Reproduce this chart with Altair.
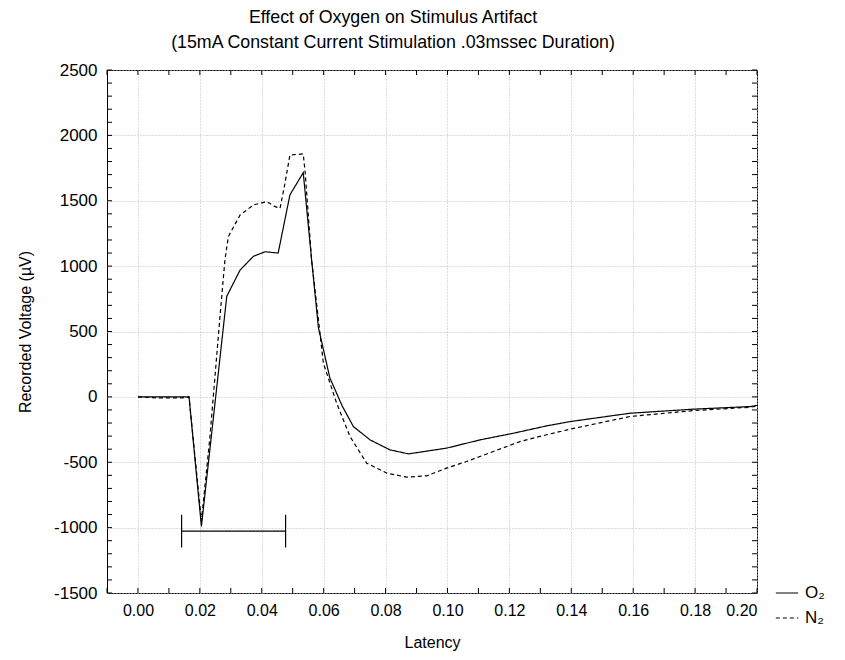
import altair as alt
import pandas as pd

title_lines = ["Effect of Oxygen on Stimulus Artifact",
               "(15mA Constant Current Stimulation .03mssec Duration)"]
series_names = ["O₂", "N₂"]

o2_x = [0.000, 0.0165, 0.0205, 0.0287, 0.0330, 0.0373, 0.0411, 0.0453, 0.0491,
        0.0534, 0.0561, 0.0583, 0.0620, 0.0660, 0.0696, 0.0750, 0.0814, 0.0874, 0.0997,
        0.1105, 0.1213, 0.1320, 0.1396, 0.1590, 0.1794, 0.1978, 0.2000]
o2_y = [0, 0, -990, 770, 970, 1075, 1110, 1100, 1545,
        1715, 1050, 530, 145, -70, -227, -329, -405, -436, -392,
        -329, -278, -222, -189, -125, -94, -74, -65]

n2_x = [0.000, 0.0060, 0.0140, 0.0165, 0.0205, 0.0232, 0.0248, 0.0265, 0.0281,
        0.0292, 0.0330, 0.0373, 0.0416, 0.0443, 0.0459, 0.0475, 0.0491, 0.0534,
        0.0540, 0.0561, 0.0588, 0.0599, 0.0642, 0.0685, 0.0739, 0.0804, 0.0868,
        0.0933, 0.0997, 0.1062, 0.1148, 0.1234, 0.1320, 0.1396, 0.1500, 0.1590,
        0.1794, 0.1978, 0.2000]
n2_y = [0, -8, -8, 0, -950, -320, 130, 614, 1047,
        1226, 1391, 1468, 1493, 1455, 1442, 1634, 1850, 1858,
        1722, 1047, 487, 258, -48, -303, -507, -583, -614,
        -604, -545, -494, -418, -342, -290, -247, -195, -150,
        -105, -79, -70]

x_ticks = [0.00, 0.02, 0.04, 0.06, 0.08, 0.10, 0.12, 0.14, 0.16, 0.18, 0.20]
x_minor = [-0.01, 0.00, 0.01, 0.02, 0.03, 0.04, 0.05, 0.06, 0.07, 0.08, 0.09, 0.10,
           0.11, 0.12, 0.13, 0.14, 0.15, 0.16, 0.17, 0.18, 0.19, 0.20]
y_ticks = [-1500, -1000, -500, 0, 500, 1000, 1500, 2000, 2500]
y_minor = list(range(-1500, 2501, 100))

bracket_x = [0.0141, 0.0477]
bracket_y = -1027
bracket_cap = [-902, -1152]

W, H = 650, 523
FONT = "Liberation Sans"

xscale = alt.Scale(domain=[-0.01, 0.20], nice=False, zero=False)
yscale = alt.Scale(domain=[-1500, 2500], nice=False, zero=False)

rows = []
for name, xs, ys in [(series_names[0], o2_x, o2_y), (series_names[1], n2_x, n2_y)]:
    for xv, yv in zip(xs, ys):
        rows.append({"x": xv, "y": yv, "series": name})
df = pd.DataFrame(rows)

x_axis = alt.Axis(values=x_ticks, format=".2f", title="Latency", ticks=False,
                  domain=False, grid=True, gridDash=[1, 2], gridColor="#bbbbbb",
                  labelPadding=9, labelFontSize=16, titleFontSize=16,
                  titlePadding=16)
y_axis = alt.Axis(values=y_ticks, title="Recorded Voltage (µV)", ticks=False,
                  domain=False, grid=True, gridDash=[1, 2], gridColor="#bbbbbb",
                  labelExpr="'' + datum.value",
                  labelPadding=10, labelFontSize=17, titleFontSize=16,
                  titlePadding=20)

lines = alt.Chart(df).mark_line(color="black", strokeWidth=1.2, clip=True).encode(
    x=alt.X("x:Q", scale=xscale, axis=x_axis),
    y=alt.Y("y:Q", scale=yscale, axis=y_axis),
    strokeDash=alt.StrokeDash(
        "series:N",
        scale=alt.Scale(domain=series_names, range=[[1, 0], [4, 3]]),
        title=None,
        legend=alt.Legend(orient="none", legendX=668, legendY=511, symbolType="stroke",
                          symbolStrokeColor="black", symbolSize=500,
                          symbolStrokeWidth=1.2, labelFontSize=17, rowPadding=5,
                          labelOffset=6, labelFont=FONT, labelColor="black")),
)

ydf = pd.DataFrame({"y": y_minor})
xdf = pd.DataFrame({"x": x_minor})

yt_left = alt.Chart(ydf).mark_rule(color="black").encode(
    y=alt.Y("y:Q", scale=yscale, axis=y_axis), x=alt.value(0), x2=alt.value(5))
yt_right = alt.Chart(ydf).mark_rule(color="black").encode(
    y=alt.Y("y:Q", scale=yscale, axis=y_axis), x=alt.value(W - 5), x2=alt.value(W))
xt_bottom = alt.Chart(xdf).mark_rule(color="black").encode(
    x=alt.X("x:Q", scale=xscale, axis=x_axis), y=alt.value(H - 5), y2=alt.value(H))
xt_top = alt.Chart(xdf).mark_rule(color="black").encode(
    x=alt.X("x:Q", scale=xscale, axis=x_axis), y=alt.value(0), y2=alt.value(5))

bh = pd.DataFrame({"x": [bracket_x[0]], "x2": [bracket_x[1]], "y": [bracket_y]})
bv = pd.DataFrame({"x": bracket_x, "y": [bracket_cap[0]] * 2, "y2": [bracket_cap[1]] * 2})

br_h = alt.Chart(bh).mark_rule(color="black", strokeWidth=1.2).encode(
    x=alt.X("x:Q", scale=xscale, axis=x_axis), x2="x2:Q",
    y=alt.Y("y:Q", scale=yscale, axis=y_axis))
br_v = alt.Chart(bv).mark_rule(color="black", strokeWidth=1.2).encode(
    x=alt.X("x:Q", scale=xscale, axis=x_axis),
    y=alt.Y("y:Q", scale=yscale, axis=y_axis), y2="y2:Q")

chart = alt.layer(lines, yt_left, yt_right, xt_bottom, xt_top, br_h, br_v).properties(
    width=W, height=H,
    autosize=alt.AutoSizeParams(type="none"),
    padding={"left": 99, "top": 62, "right": 80, "bottom": 59},
    background="white",
    title=alt.TitleParams(text=title_lines, fontSize=17.8, font=FONT, fontWeight="normal",
                          color="black", offset=9, lineHeight=25, anchor="middle",
                          dx=-39),
).configure_view(
    stroke="black", strokeWidth=1
).configure_axis(
    labelFont=FONT, titleFont=FONT, labelColor="black", titleColor="black",
    titleFontWeight="normal"
)

chart.save("out.html", embed_options={"renderer": "svg", "actions": False})
